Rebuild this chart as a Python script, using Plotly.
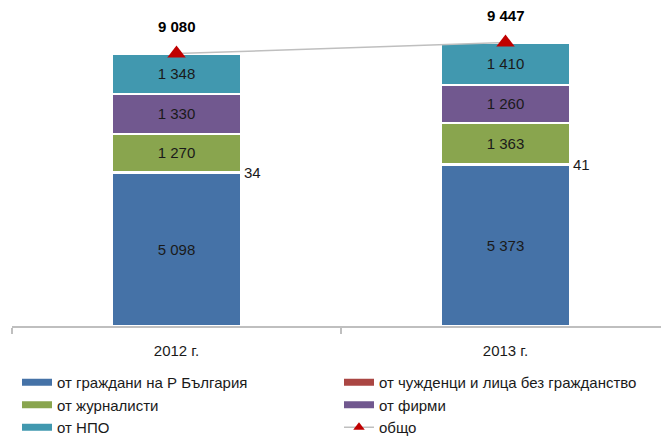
import plotly.graph_objects as go

years = ["2012 г.", "2013 г."]
series_names = [
    "от граждани на Р България",
    "от чужденци и лица без гражданство",
    "от журналисти",
    "от фирми",
    "от НПО",
]
citizens = [5098, 5373]
foreigners = [34, 41]
journalists = [1270, 1363]
companies = [1330, 1260]
ngos = [1348, 1410]
totals = [9080, 9447]
total_name = "общо"

colors = ["#4572A7", "#AA4643", "#89A54E", "#71588F", "#4198AF"]
series_values = [citizens, foreigners, journalists, companies, ngos]
bar_width = 0.395
text_color = "#1A1A1A"

fig = go.Figure()

for name, vals, col in zip(series_names, series_values, colors):
    small = name == series_names[1]
    fig.add_trace(go.Bar(
        x=years, y=vals, name=name, width=bar_width,
        marker=dict(color=col, line=dict(color="white", width=2)),
        text=None if small else [f"{v:,}".replace(",", " ") for v in vals],
        textposition="inside", insidetextanchor="middle",
        textangle=0, constraintext="none",
        insidetextfont=dict(size=15, color=text_color, family="Liberation Sans"),
        showlegend=False, hoverinfo="skip",
    ))

fig.add_trace(go.Scatter(
    x=years, y=totals, mode="lines+markers", name=total_name,
    line=dict(color="#BFBFBF", width=1.5),
    marker=dict(symbol="triangle-up", size=16, color="#C00000"),
    showlegend=False,
))

# legend entries (wide swatches) in the order of the two-column legend
for name, col in zip(series_names, colors):
    fig.add_trace(go.Scatter(
        x=[None], y=[None], mode="lines", name=name,
        line=dict(color=col, width=7),
    ))
fig.add_trace(go.Scatter(
    x=[None], y=[None], mode="lines+markers", name=total_name,
    line=dict(color="#BFBFBF", width=1.5),
    marker=dict(symbol="triangle-up", size=10, color="#C00000"),
))

annotations = []
for i, t in enumerate(totals):
    annotations.append(dict(
        x=years[i], y=t, text=f"<b>{t:,}</b>".replace(",", " "),
        showarrow=False, yshift=27,
        font=dict(size=15, color="black", family="Liberation Sans"),
    ))
for i, (c, f) in enumerate(zip(citizens, foreigners)):
    annotations.append(dict(
        x=i + bar_width / 2, y=c + f / 2, text=str(f),
        showarrow=False, xanchor="left", xshift=1,
        font=dict(size=15, color=text_color, family="Liberation Sans"),
    ))

fig.update_layout(
    width=661, height=444,
    margin=dict(l=12, r=0, t=26, b=118),
    barmode="stack",
    paper_bgcolor="white", plot_bgcolor="white",
    separators=". ",
    font=dict(family="Liberation Sans", size=15, color=text_color),
    xaxis=dict(
        type="category", range=[-0.5, 1.4726],
        tickson="boundaries", ticks="outside", ticklen=6,
        tickcolor="#BFBFBF", tickwidth=1.5,
        showline=True, linecolor="#BFBFBF", linewidth=1.5,
        showgrid=False, tickfont=dict(size=15, color=text_color),
        ticklabelstandoff=10,
    ),
    yaxis=dict(range=[0, 10000], visible=False),
    legend=dict(
        orientation="h", x=0.0123, y=-118 / 300, xanchor="left", yanchor="bottom",
        traceorder="normal",
        entrywidth=277, entrywidthmode="pixels",
        font=dict(size=15, color=text_color), tracegroupgap=0,
        itemwidth=30,
    ),
    annotations=annotations,
)

fig.write_html("out.html")
